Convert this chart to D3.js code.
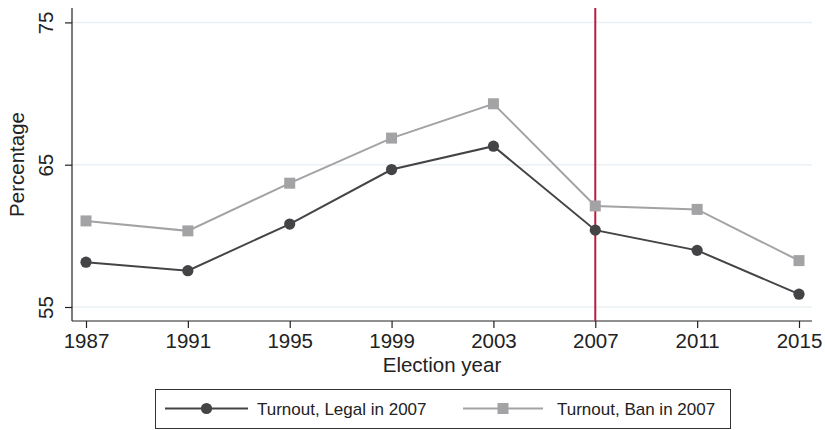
<!DOCTYPE html>
<html>
<head>
<meta charset="utf-8">
<script src="https://cdn.jsdelivr.net/npm/d3@7/dist/d3.min.js"></script>
<style>
  html, body { margin: 0; padding: 0; background: #ffffff; }
  svg { display: block; font-family: "Liberation Sans", Arial, Helvetica, sans-serif; }
</style>
</head>
<body>
<svg id="chart" width="825" height="430"></svg>
<script>
// Election years on the x axis
const years = [1987, 1991, 1995, 1999, 2003, 2007, 2011, 2015];
// Turnout (%) where the practice was still legal in 2007
const turnoutLegal = [58.15, 57.55, 60.83, 64.66, 66.3, 60.4, 58.98, 55.9];
// Turnout (%) where it was banned in 2007
const turnoutBan = [61.05, 60.35, 63.7, 66.87, 69.28, 62.1, 61.86, 58.26];
// Y-axis ticks
const yTicks = [55, 65, 75];
// Year of the policy change, marked with a vertical line
const changeYear = 2007;

const seriesNames = ["Turnout, Legal in 2007", "Turnout, Ban in 2007"];

const svg = d3.select("#chart");

const plot = { left: 72, right: 812, top: 8, bottom: 321 };

const x = d3.scaleLinear()
  .domain([1987, 2015])
  .range([86, 799]);

const y = d3.scaleLinear()
  .domain([55, 75])
  .range([307, 22.4]);

// Horizontal gridlines
svg.append("g")
  .selectAll("line")
  .data(yTicks)
  .join("line")
  .attr("x1", plot.left)
  .attr("x2", plot.right)
  .attr("y1", d => y(d))
  .attr("y2", d => y(d))
  .attr("stroke", "#eaf0f3")
  .attr("stroke-width", 1.5);

// Y axis
const yAxis = svg.append("g")
  .attr("transform", `translate(${plot.left},0)`)
  .call(d3.axisLeft(y).tickValues(yTicks).tickSize(7).tickPadding(0).tickFormat(d3.format("d")));
yAxis.select(".domain").attr("d", `M0,${plot.top}V${plot.bottom}`).attr("stroke", "#222").attr("stroke-width", 1.2);
yAxis.selectAll(".tick line").attr("stroke", "#222").attr("stroke-width", 1.2);
yAxis.selectAll(".tick text")
  .attr("x", null).attr("dy", null)
  .attr("transform", "translate(-19,0) rotate(-90)")
  .attr("text-anchor", "middle")
  .attr("fill", "#222")
  .style("font-size", "20.5px");

// X axis
const xAxis = svg.append("g")
  .attr("transform", `translate(0,${plot.bottom})`)
  .call(d3.axisBottom(x).tickValues(years).tickSize(7).tickPadding(4).tickFormat(d3.format("d")));
xAxis.select(".domain").attr("d", `M${plot.left},0H${plot.right}`).attr("stroke", "#222").attr("stroke-width", 1.2);
xAxis.selectAll(".tick line").attr("stroke", "#222").attr("stroke-width", 1.2);
xAxis.selectAll(".tick text")
  .attr("dy", null)
  .attr("y", 27)
  .attr("fill", "#222")
  .style("font-size", "20.5px");

// Axis titles
svg.append("text")
  .attr("transform", `translate(24,${(plot.top + plot.bottom) / 2}) rotate(-90)`)
  .attr("text-anchor", "middle")
  .attr("fill", "#222")
  .style("font-size", "20.5px")
  .text("Percentage");

svg.append("text")
  .attr("x", (plot.left + plot.right) / 2)
  .attr("y", 372)
  .attr("text-anchor", "middle")
  .attr("fill", "#222")
  .style("font-size", "20.5px")
  .text("Election year");

// Vertical marker for the change year
svg.append("line")
  .attr("x1", x(changeYear))
  .attr("x2", x(changeYear))
  .attr("y1", plot.top)
  .attr("y2", plot.bottom)
  .attr("stroke", "#b51f3e")
  .attr("stroke-width", 2);

const line = d3.line()
  .x((d, i) => x(years[i]))
  .y(d => y(d));

const styles = [
  { color: "#444447", shape: "circle" },
  { color: "#a3a3a6", shape: "square" }
];

const seriesData = [turnoutLegal, turnoutBan];

// Draw the ban series first so the legal series sits on top
[1, 0].forEach(k => {
  const vals = seriesData[k];
  const st = styles[k];
  svg.append("path")
    .datum(vals)
    .attr("d", line)
    .attr("fill", "none")
    .attr("stroke", st.color)
    .attr("stroke-width", 2);

  if (st.shape === "circle") {
    svg.append("g").selectAll("circle")
      .data(vals)
      .join("circle")
      .attr("cx", (d, i) => x(years[i]))
      .attr("cy", d => y(d))
      .attr("r", 5.6)
      .attr("fill", st.color);
  } else {
    const s = 11;
    svg.append("g").selectAll("rect")
      .data(vals)
      .join("rect")
      .attr("x", (d, i) => x(years[i]) - s / 2)
      .attr("y", d => y(d) - s / 2)
      .attr("width", s)
      .attr("height", s)
      .attr("fill", st.color);
  }
});

// Legend
const legend = svg.append("g");
legend.append("rect")
  .attr("x", 155.5)
  .attr("y", 389.5)
  .attr("width", 575)
  .attr("height", 39)
  .attr("fill", "#fff")
  .attr("stroke", "#333")
  .attr("stroke-width", 1);

const legendItems = [
  { x1: 165, x2: 248, text: 257 },
  { x1: 463, x2: 543, text: 557 }
];
const ly = 408.5;
legendItems.forEach((it, k) => {
  const st = styles[k];
  legend.append("line")
    .attr("x1", it.x1).attr("x2", it.x2)
    .attr("y1", ly).attr("y2", ly)
    .attr("stroke", st.color)
    .attr("stroke-width", 2);
  const cx = (it.x1 + it.x2) / 2;
  if (st.shape === "circle") {
    legend.append("circle").attr("cx", cx).attr("cy", ly).attr("r", 5.6).attr("fill", st.color);
  } else {
    legend.append("rect").attr("x", cx - 5.5).attr("y", ly - 5.5).attr("width", 11).attr("height", 11).attr("fill", st.color);
  }
  legend.append("text")
    .attr("x", it.text)
    .attr("y", ly + 6)
    .attr("fill", "#222")
    .style("font-size", "17px")
    .text(seriesNames[k]);
});
</script>
</body>
</html>
